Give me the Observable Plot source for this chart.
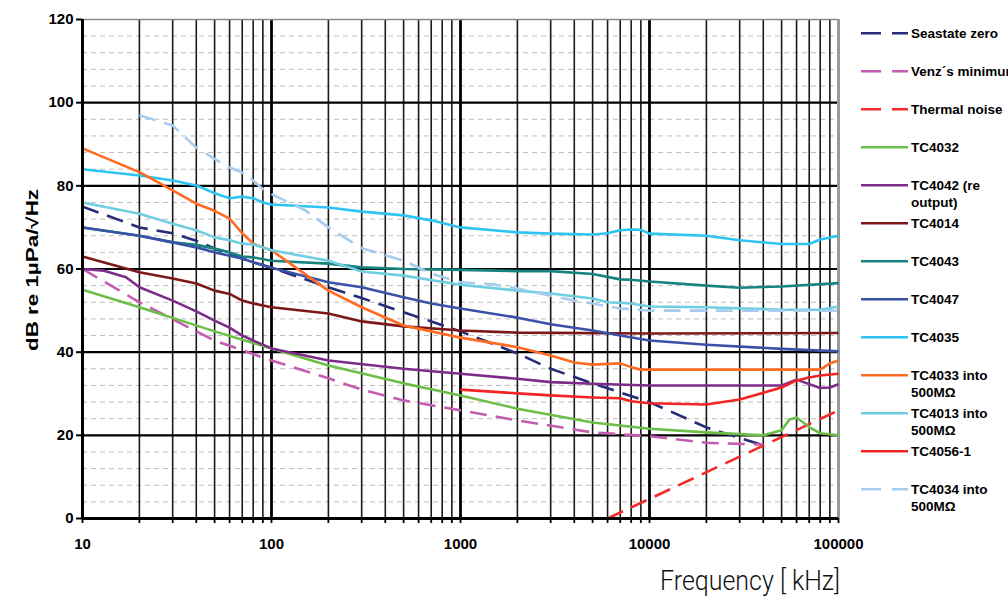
<!DOCTYPE html>
<html>
<head>
<meta charset="utf-8">
<script src="https://cdn.jsdelivr.net/npm/d3@7"></script>
<script src="https://cdn.jsdelivr.net/npm/@observablehq/plot@0.6"></script>
<style>
  html, body { margin: 0; padding: 0; background: #fff; width: 1008px; height: 599px; overflow: hidden; }
  #wrap { position: relative; width: 1008px; height: 599px; }
  #legend { position: absolute; left: 0; top: 0; }
</style>
</head>
<body>
<div id="wrap"></div>
<script>
// ---- Data (frequency, dB re 1µPa/√Hz) ----
const seastateZero = [[10,75],[20,70],[30,68.6],[40,66.8],[60,63.4],[100,60.3],[200,55.6],[300,53],[500,49.6],[1000,45],[2000,39.7],[3000,36],[5000,32.5],[10000,28],[20000,21.9],[40000,17.6]];
const venzMinimum = [[10,60],[20,52],[30,47.9],[50,42.8],[100,38],[200,33.7],[300,31],[500,28.4],[1000,26],[2000,23.6],[5000,20.7],[10000,19.8],[20000,18.2],[40000,17.8]];
const thermalNoise = [[6000,0],[100000,26]];
const tc4032 = [[10,55],[20,50.8],[50,45],[100,40.9],[200,36.8],[500,32.5],[1000,29.6],[2000,26.4],[5000,23.1],[10000,21.6],[20000,20.7],[40000,20],[50000,21.2],[55000,23.8],[60000,24.3],[70000,22],[80000,20.5],[100000,20]];
const tc4042 = [[10,60],[13,59.6],[17,58],[20,55.6],[30,52.4],[40,49.8],[50,47.6],[60,45.9],[70,44],[80,42.8],[100,40.9],[200,38],[500,36],[1000,34.8],[2000,33.6],[3000,32.8],[5000,32.4],[10000,32],[50000,32],[60000,33.4],[80000,31.4],[90000,31.5],[100000,32.3]];
const tc4014 = [[10,63],[20,59.2],[30,57.7],[40,56.5],[50,54.8],[60,54],[70,52.4],[80,51.7],[100,50.8],[200,49.3],[300,47.4],[500,46.2],[1000,45.2],[2000,44.7],[10000,44.5],[100000,44.6]];
const tc4043 = [[10,70],[20,68],[30,66.4],[40,65.8],[50,64.9],[60,64],[70,63],[80,62.8],[100,62],[200,61.3],[300,60.4],[500,60],[1000,59.8],[2000,59.5],[3000,59.5],[5000,58.8],[7000,57.5],[8000,57.4],[10000,57],[20000,56],[30000,55.5],[50000,55.8],[100000,56.6]];
const tc4047 = [[10,70],[20,68],[30,66.4],[40,65.2],[50,64],[60,63.2],[70,62.5],[80,61.6],[100,60.3],[200,56.8],[300,55.6],[500,53.2],[700,51.7],[1000,50.5],[2000,48.3],[3000,46.7],[5000,45.2],[7000,44],[10000,42.8],[20000,41.8],[50000,40.8],[100000,40.2]];
const tc4035 = [[10,84],[20,82.5],[30,81.3],[40,80.1],[50,78.2],[60,77],[70,77.4],[80,77],[90,76],[100,75.5],[200,74.8],[300,73.8],[500,72.9],[700,71.7],[1000,70],[2000,68.8],[3000,68.5],[5000,68.3],[6000,68.6],[7000,69.3],[8000,69.5],[9000,69.4],[10000,68.5],[20000,68],[30000,66.9],[50000,66],[70000,66],[80000,67.1],[100000,68]];
const tc4033 = [[10,89],[20,83.3],[30,78.9],[40,75.7],[50,74],[60,72.1],[70,68.6],[80,66.1],[90,65.2],[100,64.5],[200,54.8],[300,50.8],[500,46.4],[1000,43.5],[2000,41.2],[3000,39.2],[4000,37.5],[5000,37],[7000,37.3],[8000,36.4],[9000,35.8],[80000,35.8],[90000,37.3],[100000,38]];
const tc4013 = [[10,76],[20,73.3],[30,70.9],[40,69.3],[50,67.6],[60,66.9],[70,66.1],[80,65.9],[100,64.5],[200,62],[300,59.4],[500,58.4],[1000,56.2],[2000,54.8],[3000,54.1],[5000,52.9],[6000,52],[8000,51.7],[10000,51],[20000,50.8],[50000,50.2],[80000,50.2],[100000,51]];
const tc4056 = [[1000,31],[2000,30.1],[3000,29.6],[5000,29.1],[7000,28.9],[8000,28.2],[10000,27.7],[20000,27.4],[30000,28.6],[50000,31.5],[60000,33.2],[70000,33.9],[80000,34.4],[100000,34.8]];
const tc4034 = [[20,97],[30,94.5],[40,89.2],[50,86.5],[60,84.4],[70,83.2],[80,81.3],[90,79.2],[100,78],[150,74.2],[200,70],[300,65],[500,62],[700,58.9],[1000,56.8],[1500,56.3],[2000,55.3],[3000,53.6],[4000,52.4],[5000,51.7],[7000,50.5],[10000,50],[100000,50]];

const seriesNames = ["Seastate zero","Venz´s minimum","Thermal noise","TC4032","TC4042 (re output)","TC4014","TC4043","TC4047","TC4035","TC4033 into 500MΩ","TC4013 into 500MΩ","TC4056-1","TC4034 into 500MΩ"];
const legendLines = [["Seastate zero"],["Venz´s minimum"],["Thermal noise"],["TC4032"],["TC4042 (re","output)"],["TC4014"],["TC4043"],["TC4047"],["TC4035"],["TC4033 into","500MΩ"],["TC4013 into","500MΩ"],["TC4056-1"],["TC4034 into","500MΩ"]];
const seriesData = [seastateZero, venzMinimum, thermalNoise, tc4032, tc4042, tc4014, tc4043, tc4047, tc4035, tc4033, tc4013, tc4056, tc4034];
const seriesColors = ["#272C78","#C45DB1","#F22B2B","#6CBE48","#7D2C8A","#7C1818","#17837E","#3A52A6","#2EC4F2","#FF6B22","#6FCFE0","#F22424","#A7CCEE"];
const seriesDashed = [true, true, true, false, false, false, false, false, false, false, false, false, true];

const yTitle = "dB re 1µPa/√Hz";
const xTitle = "Frequency [ kHz]";
const yTicks = [0,20,40,60,80,100,120];
const yMinor = d3.range(4, 120, 4).filter(v => v % 20 !== 0);
const decades = [10,100,1000,10000,100000];
const xMinor = d3.merge([10,100,1000,10000].map(d => d3.range(2,10).map(k => k*d)));
const xAll = [...decades, ...xMinor];

const rows = [];
seriesData.forEach((arr, i) => arr.forEach(([f, v]) => rows.push({series: seriesNames[i], f, v})));

const lineMarks = seriesNames.map((name, i) => Plot.line(rows.filter(r => r.series === name), {
  x: "f", y: "v", stroke: seriesColors[i], strokeWidth: 2.6,
  strokeDasharray: seriesDashed[i] ? "17,9" : null, strokeLinejoin: "round", strokeLinecap: "butt"
}));

const chart = Plot.plot({
  width: 1008, height: 599,
  marginLeft: 82, marginRight: 170, marginTop: 19, marginBottom: 81,
  x: {type: "log", domain: [10, 100000]},
  y: {domain: [0, 120]},
  style: {fontFamily: "'Liberation Sans', Arial, sans-serif", background: "transparent", color: "#000"},
  marks: [
    Plot.ruleY(yMinor, {stroke: "#bdbdbd", strokeWidth: 1, strokeDasharray: "5,4"}),
    Plot.ruleX(xMinor, {stroke: "#1a1a1a", strokeWidth: 1.6}),
    Plot.ruleX(decades, {stroke: "#000", strokeWidth: 2.8}),
    Plot.ruleY(yTicks.filter(v => v > 0 && v < 120), {stroke: "#000", strokeWidth: 2.2}),
    Plot.ruleY([120], {stroke: "#8a8a8a", strokeWidth: 1.5}),
    Plot.ruleX([100000], {stroke: "#9a9a9a", strokeWidth: 3}),
    ...lineMarks,
    Plot.ruleX([10], {stroke: "#000", strokeWidth: 3}),
    Plot.ruleY([0], {stroke: "#000", strokeWidth: 3}),
    Plot.axisY({ticks: yTicks, tickSize: 6, tickPadding: 3, fontSize: 15, fontWeight: "bold", strokeWidth: 2, label: null}),
    Plot.axisX({ticks: decades, tickSize: 0, tickPadding: 20, fontSize: 15, fontWeight: "bold", tickFormat: d => String(d), label: null}),
    Plot.axisX({ticks: xAll, tickSize: 5, strokeWidth: 1.8, tickFormat: () => "", label: null})
  ]
});

const wrap = document.getElementById("wrap");
wrap.appendChild(chart);

// Overlay: axis titles and legend
const leg = d3.select(wrap).append("svg").attr("id", "legend").attr("width", 1008).attr("height", 599)
  .style("font-family", "'Liberation Sans', Arial, sans-serif");

leg.append("text")
  .attr("transform", "translate(38,270) rotate(-90)")
  .attr("text-anchor", "middle")
  .attr("font-size", 16).attr("font-weight", "bold").attr("fill", "#000")
  .attr("textLength", 162).attr("lengthAdjust", "spacingAndGlyphs")
  .text(yTitle);

leg.append("text")
  .attr("x", 840).attr("y", 590)
  .attr("text-anchor", "end")
  .style("font-family", "Roboto, 'DejaVu Sans', sans-serif")
  .attr("font-size", 28).attr("font-weight", 300).attr("fill", "#111")
  .attr("textLength", 180).attr("lengthAdjust", "spacingAndGlyphs")
  .text(xTitle);

seriesNames.forEach((name, i) => {
  const y = 33.3 + i * 38;
  const g = leg.append("g");
  g.append("line").attr("x1", 861).attr("x2", 908).attr("y1", y).attr("y2", y)
    .attr("stroke", seriesColors[i]).attr("stroke-width", 2.6)
    .attr("stroke-dasharray", seriesDashed[i] ? "20,11" : null);
  const t = g.append("text").attr("x", 911).attr("y", y).attr("font-size", 13.5).attr("font-weight", "bold").attr("fill", "#000");
  legendLines[i].forEach((ln, j) => {
    t.append("tspan").attr("x", 911).attr("dy", j === 0 ? "0.36em" : "17px").text(ln);
  });
});
</script>
</body>
</html>
